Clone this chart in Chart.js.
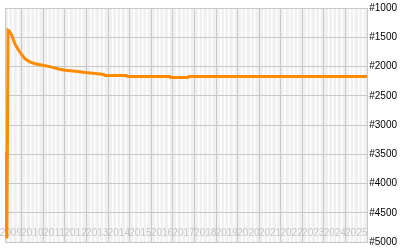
<!DOCTYPE html>
<html>
<head>
<meta charset="utf-8">
<script src="https://cdn.jsdelivr.net/npm/chart.js@4"></script>
<style>
  html, body { margin: 0; padding: 0; background: #fff; }
  canvas { display: block; }
</style>
</head>
<body>
<canvas id="grafica" width="400" height="250"></canvas>
<script>
// rank history (lower number = better), x in decimal years
const pointYears = [
    2009.23, 2009.234, 2009.238, 2009.242, 2009.246, 2009.25,
    2009.32, 2009.37, 2009.42, 2009.54, 2009.70, 2009.85,
    2010.01, 2010.16, 2010.39, 2010.63, 2010.86, 2011.09,
    2011.40, 2011.71, 2012.02, 2012.49, 2012.95, 2013.42,
    2013.80, 2013.85, 2014.86, 2014.90, 2016.86, 2016.90,
    2017.70, 2017.75, 2026.0
];
const ranks = [
    3480, 4050, 3470, 4060, 3490, 4058,
    4940, 1380, 1390, 1465, 1620, 1715,
    1800, 1868, 1925, 1952, 1970, 1986,
    2010, 2043, 2065, 2081, 2103, 2120,
    2136, 2153, 2153, 2170, 2170, 2186,
    2186, 2170, 2170
];
const yearLabels = ['2009', '2010', '2011', '2012', '2013', '2014', '2015', '2016', '2017',
    '2018', '2019', '2020', '2021', '2022', '2023', '2024', '2025'];
const rankTicks = [1000, 1500, 2000, 2500, 3000, 3500, 4000, 4500, 5000];

const X_MIN = 2009.23, X_MAX = 2026.0;

// fondo gris, borde izquierdo y etiquetas de años dentro del área
const fondoPlot = {
    id: 'fondoPlot',
    beforeDraw(chart) {
        const { ctx, chartArea: a } = chart;
        ctx.save();
        ctx.fillStyle = '#f0f0f0';
        ctx.fillRect(a.left, a.top, a.right - a.left, a.bottom - a.top);
        ctx.restore();
    },
    beforeDatasetsDraw(chart) {
        const { ctx, chartArea: a } = chart;
        const sx = chart.scales.x;
        ctx.save();
        ctx.strokeStyle = '#c8c8c8';
        ctx.lineWidth = 1;
        ctx.beginPath();
        ctx.moveTo(a.left + 0.5, a.top);
        ctx.lineTo(a.left + 0.5, a.bottom);
        ctx.stroke();
        ctx.fillStyle = '#c4c4c4';
        ctx.font = '10px "Liberation Sans"';
        ctx.textAlign = 'center';
        ctx.textBaseline = 'middle';
        yearLabels.forEach(y => {
            ctx.fillText(y, sx.getPixelForValue(parseInt(y) + 0.5), a.bottom - 9);
        });
        ctx.restore();
    }
};

new Chart(document.getElementById('grafica'), {
    type: 'line',
    data: {
        datasets: [{
            data: pointYears.map((x, i) => ({ x: x, y: ranks[i] })),
            borderColor: '#ff8c00',
            borderWidth: 3,
            pointRadius: 0,
            tension: 0,
            fill: false
        }]
    },
    plugins: [fondoPlot],
    options: {
        responsive: false,
        animation: false,
        layout: { padding: { left: 5, right: 1, top: 0, bottom: 0 } },
        plugins: { legend: { display: false }, tooltip: { enabled: false } },
        scales: {
            x: {
                type: 'linear',
                min: X_MIN,
                max: X_MAX,
                afterBuildTicks: scale => {
                    const t = [];
                    for (let yr = 2009; yr <= 2026; yr++) {
                        for (let k = 0; k < 5; k++) {
                            const v = yr + k * 0.2;
                            if (v > X_MIN && v < X_MAX) t.push({ value: v });
                        }
                    }
                    scale.ticks = t;
                },
                ticks: { display: false },
                grid: {
                    z: -1,
                    drawTicks: false,
                    color: c => Math.abs(c.tick.value - Math.round(c.tick.value)) < 1e-6 ? '#c8c8c8' : '#ffffff',
                    lineWidth: c => Math.abs(c.tick.value - Math.round(c.tick.value)) < 1e-6 ? 1 : 1.5
                },
                border: { display: false }
            },
            y: {
                position: 'right',
                reverse: true,
                min: 1000,
                max: 5000,
                afterBuildTicks: scale => { scale.ticks = rankTicks.map(v => ({ value: v })); },
                ticks: {
                    color: '#000',
                    padding: 2,
                    font: { family: 'Liberation Sans', size: 10 },
                    callback: v => '#' + v
                },
                grid: { color: '#c8c8c8', drawTicks: false },
                border: { color: '#c8c8c8' }
            }
        }
    }
});
</script>
</body>
</html>
